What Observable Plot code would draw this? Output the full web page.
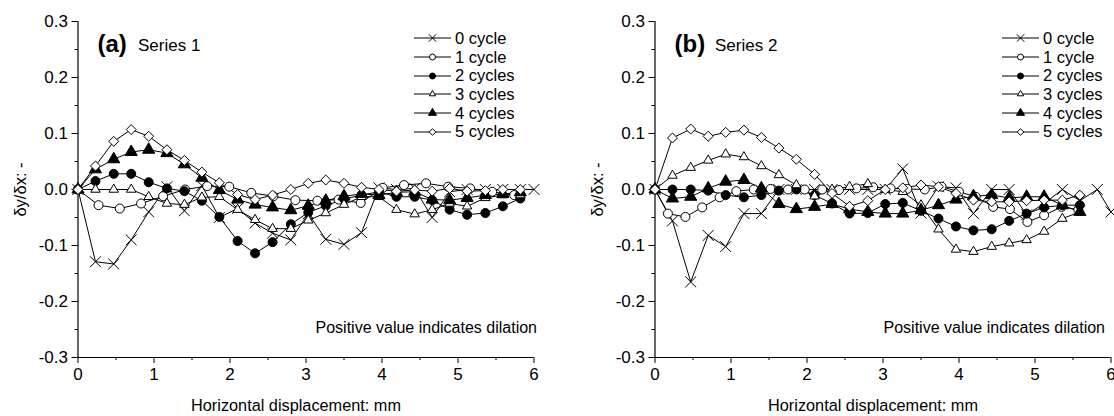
<!DOCTYPE html>
<html><head><meta charset="utf-8">
<script src="https://cdn.jsdelivr.net/npm/d3@7"></script>
<script src="https://cdn.jsdelivr.net/npm/@observablehq/plot@0.6"></script>
<style>
body{margin:0;background:#fff;font-family:"Liberation Sans",Arial,sans-serif;}
#wrap{position:relative;width:1114px;height:416px;display:flex;overflow:hidden;}
.legend{position:absolute;font-size:16.5px;color:#000;}
.legend .row{display:flex;align-items:center;height:18.7px;}
.legend svg{display:block;}
.legend span{margin-left:4px;white-space:nowrap;}
</style></head><body><div id="wrap"></div>
<script>
// shared tick labels
const xMajor = [0, 1, 2, 3, 4, 5, 6];
const xMinor = [0.5, 1.5, 2.5, 3.5, 4.5, 5.5];
const yMajor = [-0.3, -0.2, -0.1, 0, 0.1, 0.2, 0.3];
const yMinor = [-0.25, -0.15, -0.05, 0.05, 0.15, 0.25];
const seriesNames = ["0 cycle", "1 cycle", "2 cycles", "3 cycles", "4 cycles", "5 cycles"];

// measurement positions (mm)
const xStd = [0,0.23,0.47,0.70,0.93,1.17,1.40,1.63,1.86,2.10,2.33,2.56,2.80,3.03,3.26,3.50,3.73,3.96,4.19,4.43,4.66,4.89,5.12,5.36,5.59,5.82];
const xLong = [0,0.23,0.47,0.70,0.93,1.17,1.40,1.63,1.86,2.10,2.33,2.56,2.80,3.03,3.26,3.50,3.73,3.96,4.19,4.43,4.66,4.89,5.12,5.36,5.59,5.82,6.00];
const xShort = [0,0.23,0.47,0.70,0.93,1.17,1.40,1.63,1.86,2.10,2.33,2.56,2.80,3.03,3.26,3.50,3.73,3.96,4.19,4.43,4.66,4.89,5.12,5.36,5.59];
const xA1 = [0,0.27,0.55,0.83,1.12,1.41,1.70,1.99,2.28,2.57,2.86,3.15,3.43,3.72,4.01,4.29,4.58,4.87,5.16,5.45,5.74];
const xB1 = [0,0.17,0.40,0.62,0.85,1.07,1.30,1.52,1.75,1.97,2.20,2.42,2.65,2.87,3.10,3.32,3.55,3.77,4.00,4.22,4.45,4.67,4.90,5.12,5.35,5.57];

// Series 1 (panel a)
const a0 = [0,-0.129,-0.133,-0.09,-0.04,0.005,-0.038,0.007,-0.05,-0.034,-0.06,-0.078,-0.09,-0.043,-0.089,-0.098,-0.077,0.003,0,0.002,-0.05,-0.004,0,0,0,0,0];
const a1 = [0,-0.028,-0.034,-0.025,-0.012,0,0.006,0.005,-0.006,-0.012,-0.019,-0.02,-0.018,-0.024,0.003,0.008,0.011,0.005,0.002,-0.004,-0.01];
const a2 = [0,0.015,0.028,0.028,0.013,0.002,-0.003,-0.02,-0.049,-0.092,-0.114,-0.094,-0.062,-0.041,-0.029,-0.017,-0.01,-0.004,-0.013,-0.013,-0.019,-0.036,-0.045,-0.042,-0.03,-0.016];
const a3 = [0,0,0,0,-0.013,-0.025,-0.027,-0.014,-0.013,-0.036,-0.054,-0.07,-0.07,-0.055,-0.042,-0.027,-0.013,-0.013,-0.036,-0.044,-0.036,-0.025,-0.03,-0.015,-0.01,-0.01];
const a4 = [0,0.036,0.054,0.067,0.071,0.065,0.045,0.021,-0.001,-0.018,-0.027,-0.032,-0.037,-0.029,-0.02,-0.012,-0.008,-0.01,-0.005,-0.004,-0.018,-0.019,-0.015,-0.01,-0.008,-0.005];
const a5 = [0,0.042,0.086,0.107,0.095,0.071,0.052,0.031,0.012,-0.009,-0.018,-0.01,0,0.011,0.017,0.011,0.004,0,-0.003,-0.001,-0.003,0.002,-0.003,-0.002,0,0];

// Series 2 (panel b)
const b0 = [0,-0.056,-0.165,-0.082,-0.102,-0.043,-0.043,0,0,0,0,0,0,0,0.037,-0.042,0.005,0.003,-0.043,0,0,-0.045,-0.025,0,-0.02,0,-0.04];
const b1 = [0,-0.043,-0.049,-0.032,-0.014,-0.003,0,0.001,0,0,0,-0.001,0.002,0.004,0.002,0.001,0,0.005,-0.004,-0.013,-0.031,-0.035,-0.058,-0.046,-0.031,-0.036];
const b2 = [0,0,0,-0.002,-0.01,-0.014,-0.01,-0.002,0,-0.01,-0.025,-0.043,-0.042,-0.026,-0.024,-0.038,-0.052,-0.066,-0.073,-0.071,-0.056,-0.043,-0.032,-0.028,-0.028];
const b3 = [0,0.025,0.039,0.052,0.063,0.058,0.042,0.026,0.008,-0.012,0,0.005,0.01,0,-0.004,-0.028,-0.071,-0.107,-0.111,-0.102,-0.096,-0.09,-0.075,-0.052,-0.04];
const b4 = [0,-0.016,-0.013,0.002,0.014,0.017,0.002,-0.026,-0.035,-0.031,-0.026,-0.035,-0.04,-0.043,-0.043,-0.037,-0.028,-0.018,-0.012,-0.01,-0.015,-0.013,-0.013,-0.028,-0.04];
const b5 = [0,0.092,0.108,0.095,0.102,0.106,0.093,0.074,0.054,0.027,-0.007,-0.03,-0.02,0,0.003,0.008,0.005,-0.007,-0.019,-0.022,-0.022,-0.02,-0.019,-0.019,-0.01];

const symbols = ["times", "circle", "circle", "triangle2", "triangle", "diamond2"];
const fills = ["none", "white", "black", "white", "black", "white"];
const d3Symbols = [d3.symbolTimes, d3.symbolCircle, d3.symbolCircle, d3.symbolTriangle2, d3.symbolTriangle, d3.symbolDiamond2];

function panel(xs, ys, tag, name, ml, mr, noteDx) {
  const marks = [
    Plot.axisY(yMinor, {tickSize: 3, tickFormat: () => "", label: null}),
    Plot.axisY(yMajor, {tickSize: 6, tickPadding: 4, tickFormat: d => d.toFixed(1), fontSize: 17, label: null}),
    Plot.axisX(xMinor, {tickSize: 3, tickFormat: () => "", label: null}),
    Plot.axisX(xMajor, {tickSize: 6, tickPadding: 4, tickFormat: d => String(d), fontSize: 17, label: null}),
    Plot.ruleX([0], {stroke: "black", strokeWidth: 1.2}),
    Plot.ruleY([-0.3], {stroke: "black", strokeWidth: 1.2}),
    Plot.text(["δy/δx: -"], {text: d => d, frameAnchor: "left", dx: -57, rotate: -90, textAnchor: "middle", lineAnchor: "middle", fontSize: 16.5}),
    Plot.text(["Horizontal displacement: mm"], {text: d => d, frameAnchor: "bottom", dx: -10, dy: 48, lineAnchor: "middle", fontSize: 16.3}),
    Plot.text(["Positive value indicates dilation"], {text: d => d, frameAnchor: "bottom-right", dx: noteDx, dy: -30, textAnchor: "end", lineAnchor: "middle", fontSize: 16}),
    Plot.text([tag], {text: d => d, frameAnchor: "top-left", dx: 19.5, dy: 23, textAnchor: "start", lineAnchor: "middle", fontWeight: "bold", fontSize: 24}),
    Plot.text([name], {text: d => d, frameAnchor: "top-left", dx: 60, dy: 24, textAnchor: "start", lineAnchor: "middle", fontSize: 17})
  ];
  const data = ys.map((y, i) => y.map((v, j) => ({x: xs[i][j], y: v})));
  data.forEach(d => marks.push(Plot.line(d, {x: "x", y: "y", stroke: "black", strokeWidth: 1})));
  data.forEach((d, i) => marks.push(Plot.dot(d, {x: "x", y: "y", symbol: symbols[i], r: i === 0 ? 5 : 4.5, fill: fills[i], stroke: "black", strokeWidth: 1})));
  return Plot.plot({
    width: 557, height: 416,
    marginLeft: ml, marginRight: mr, marginTop: 21, marginBottom: 59,
    x: {domain: [0, 6], label: null},
    y: {domain: [-0.3, 0.3], label: null},
    style: {fontFamily: "'Liberation Sans', Arial, sans-serif", fontSize: "17px", background: "white", overflow: "hidden"},
    marks
  });
}

const wrap = document.getElementById("wrap");
wrap.append(panel([xLong, xA1, xStd, xStd, xStd, xStd], [a0, a1, a2, a3, a4, a5], "(a)", "Series 1", 77.5, 23.5, 3));
wrap.append(panel([xLong, xB1, xShort, xShort, xShort, xShort], [b0, b1, b2, b3, b4, b5], "(b)", "Series 2", 97.5, 3.5, -6));

function legend(left, top) {
  const div = document.createElement("div");
  div.className = "legend";
  div.style.left = left + "px";
  div.style.top = top + "px";
  seriesNames.forEach((n, i) => {
    const row = document.createElement("div");
    row.className = "row";
    const svg = d3.create("svg").attr("width", 37).attr("height", 18);
    svg.append("line").attr("x1", 0).attr("x2", 37).attr("y1", 9).attr("y2", 9).attr("stroke", "black");
    svg.append("path").attr("transform", "translate(18.5,9)")
      .attr("d", d3.symbol(d3Symbols[i], i === 0 ? 38 : 28)())
      .attr("fill", fills[i]).attr("stroke", "black");
    row.append(svg.node());
    const s = document.createElement("span");
    s.textContent = n;
    row.append(s);
    div.append(row);
  });
  wrap.append(div);
}
legend(414, 29);
legend(1002, 29);
</script></body></html>
